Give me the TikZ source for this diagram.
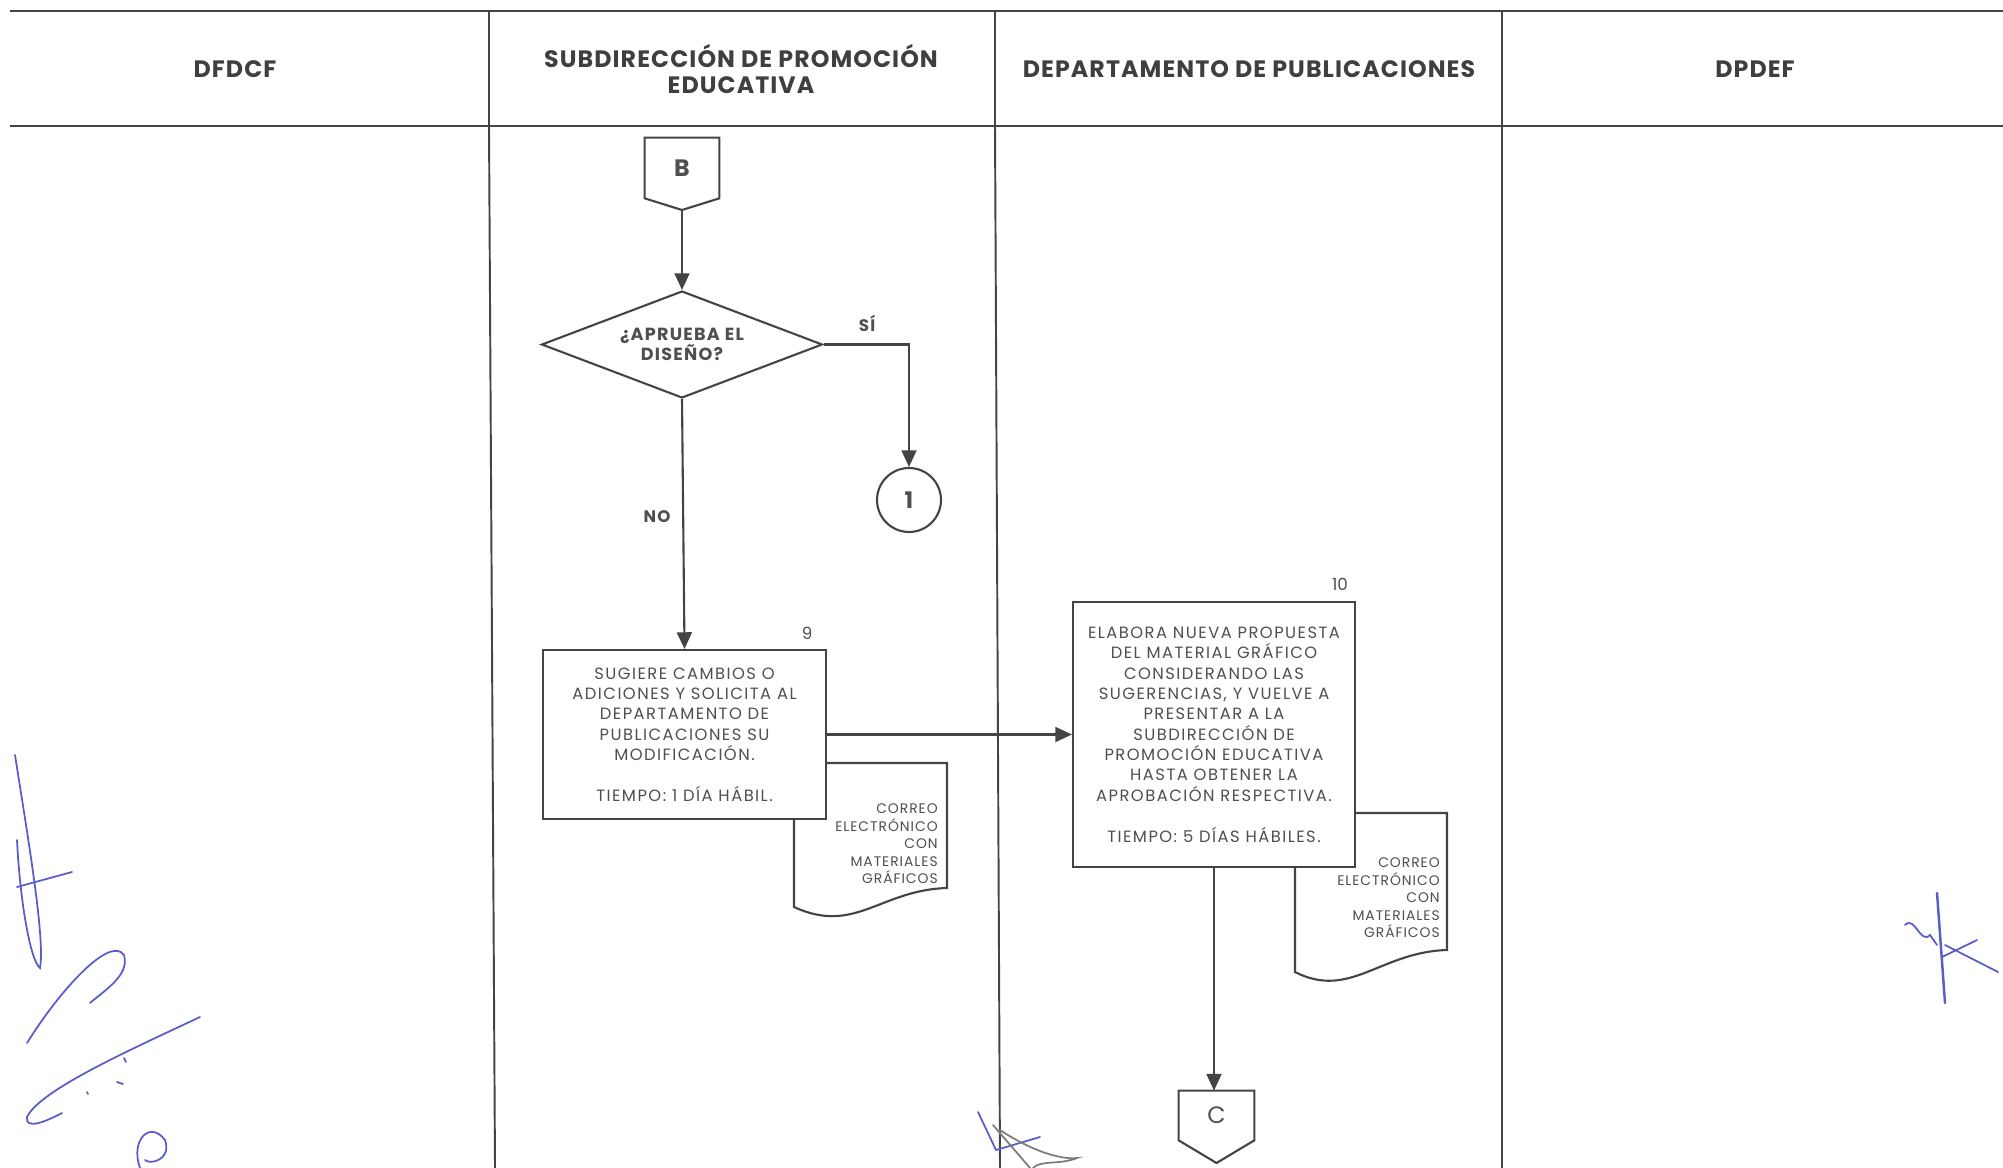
\documentclass[tikz,border=0pt]{standalone}
\usepackage{fontspec}
\setmainfont{Poppins}
\newfontfamily\widefont[LetterSpace=7]{Poppins}
\newfontfamily\boxfont[LetterSpace=9]{Poppins}
\newfontfamily\headfont[LetterSpace=4.5]{Poppins}
\usetikzlibrary{arrows.meta,shapes.geometric,positioning,calc}
\definecolor{ink}{HTML}{444444}
\definecolor{txt}{HTML}{4F4F4F}
\definecolor{pen}{HTML}{5A5CC8}

\begin{document}
\begin{tikzpicture}[x=0.02cm, y=-0.02cm,
    head/.style={font=\headfont\bfseries\fontsize{13.5}{15}\selectfont, text=txt!80!black, align=center},
    box/.style={draw=ink, line width=1.2pt, fill=white, align=center, text=txt, font=\boxfont\fontsize{9.3}{11.6}\selectfont, inner sep=0pt},
    dec/.style={diamond, draw=ink, line width=1.2pt, minimum width=5.62cm, minimum height=2.14cm, inner sep=0pt},
    dectext/.style={align=center, inner sep=0pt, font=\widefont\bfseries\fontsize{10}{10.4}\selectfont, text=txt},
    conn/.style={minimum width=1.48cm, minimum height=1.2cm, inner sep=0pt, font=\bfseries\fontsize{13.5}{14}\selectfont, text=txt},
    doc/.style={align=right, font=\widefont\fontsize{7.9}{10}\selectfont, text=txt, inner sep=0pt},
    lbl/.style={font=\widefont\bfseries\fontsize{9.5}{10}\selectfont, text=txt},
    num/.style={font=\fontsize{9.5}{10}\selectfont, text=txt},
    arr/.style={-{Triangle[length=9.5pt, width=8.5pt]}, draw=ink, line width=1.2pt},
    sig/.style={draw=pen, line width=1pt, line cap=round}
]
\useasboundingbox (0,0) rectangle (2003,1168);

% lanes
\draw[ink, line width=1.6pt] (10,11) -- (2003,11) (10,126) -- (2003,126);
\draw[ink, line width=1.1pt] (489,11) -- (489,126) -- (495,1168);
\draw[ink, line width=1.1pt] (995,11) -- (995,126) -- (1000,1168);
\draw[ink, line width=1.1pt] (1502,11) -- (1502,1168);

\node[head] (h1) at (235,69) {DFDCF};
\node[head] (h2) at (741,69) {SUBDIRECCIÓN DE PROMOCIÓN\\EDUCATIVA};
\node[head] (h3) at (1249,69) {DEPARTAMENTO DE PUBLICACIONES};
\node[head] (h4) at (1755,69) {DPDEF};

% documents (behind the boxes)
\draw[ink, line width=1.2pt, fill=white] (794,763) -- (947,763) -- (947,888) .. controls (880,890) and (855,935) .. (794,907) -- cycle;
\node[doc, anchor=east] (d9) at (938,844) {CORREO\\ELECTRÓNICO\\CON\\MATERIALES\\GRÁFICOS};
\draw[ink, line width=1.2pt, fill=white] (1295,813) -- (1447,813) -- (1447,950) .. controls (1380,952) and (1350,1000) .. (1295,972) -- cycle;
\node[doc, anchor=east] (d10) at (1440,898) {CORREO\\ELECTRÓNICO\\CON\\MATERIALES\\GRÁFICOS};

% steps
\node[conn] (b) at (682,168) {B};
\draw[ink, line width=1.2pt] (b.south west) -- (b.north west) -- (b.north east) -- (b.south east) -- (682,210) -- cycle;
\coordinate (bpt) at (682,210);
\node[dec] (q) at (682,344.5) {};
\node[dectext] (qt) at (q) {¿APRUEBA EL\\DISEÑO?};
\node[draw=ink, line width=1.2pt, circle, minimum size=1.28cm, inner sep=0pt, font=\bfseries\fontsize{13}{14}\selectfont, text=txt] (c1) at (909,500) {1};
\node[box, minimum width=5.66cm, minimum height=3.38cm] (s9) at (684.5,734.5) {SUGIERE CAMBIOS O\\ADICIONES Y SOLICITA AL\\DEPARTAMENTO DE\\PUBLICACIONES SU\\MODIFICACIÓN.\\[11.6pt]TIEMPO: 1 DÍA HÁBIL.};
\node[box, minimum width=5.64cm, minimum height=5.3cm] (s10) at (1214,734.5) {ELABORA NUEVA PROPUESTA\\DEL MATERIAL GRÁFICO\\CONSIDERANDO LAS\\SUGERENCIAS, Y VUELVE A\\PRESENTAR A LA\\SUBDIRECCIÓN DE\\PROMOCIÓN EDUCATIVA\\HASTA OBTENER LA\\APROBACIÓN RESPECTIVA.\\[11.6pt]TIEMPO: 5 DÍAS HÁBILES.};
\node[conn, font=\fontsize{13.5}{14}\selectfont, minimum width=1.5cm, minimum height=0.98cm] (c) at (1216.5,1115.5) {C};
\draw[ink, line width=1.2pt] (c.south west) -- (c.north west) -- (c.north east) -- (c.south east) -- (1216.5,1163) -- cycle;

\node[num] (n9) at (807,633) {9};
\node[num] (n10) at (1340,584) {10};
\node[lbl] (si) at (867,323) {SÍ};
\node[lbl] (no) at (657,517) {NO};

% flow
\draw[arr] (bpt) -- (q.north);
\draw[arr] (q.east) -| (c1.north);
\draw[arr] (q.south) -- (s9.north);
\draw[arr] (s9.east) -- (s10.west);
\draw[arr] (s10.south) -- (s10.south |- c.north);

% signatures
\draw[sig] (15,755) .. controls (30,850) and (45,940) .. (40,968) .. controls (30,960) and (20,900) .. (17,840);
\draw[sig] (17,887) -- (72,872);
\draw[sig] (27,1043) .. controls (60,990) and (110,935) .. (124,955) .. controls (130,975) and (105,990) .. (90,1003);
\draw[sig] (200,1017) .. controls (130,1050) and (40,1090) .. (27,1117) .. controls (25,1130) and (45,1122) .. (62,1113);
\draw[sig] (124,1058) -- (126,1062) (117,1082) -- (123,1084) (87,1092) -- (88,1094);
\draw[sig] (140,1168) .. controls (130,1140) and (150,1120) .. (165,1140) .. controls (172,1160) and (150,1165) .. (145,1160);
\draw[sig] (978,1112) -- (996,1150) -- (1040,1137);
\draw[sig, draw=ink!70] (993,1125) -- (1030,1168);
\draw[sig, draw=ink!70] (1000,1130) .. controls (1030,1150) and (1060,1160) .. (1077,1158) .. controls (1060,1165) and (1040,1160) .. (1033,1168);
\draw[sig, line width=1.4pt] (1937,893) -- (1945,1003);
\draw[sig] (1905,925) .. controls (1915,915) and (1920,945) .. (1930,935) -- (1937,945);
\draw[sig] (1977,940) -- (1942,957) (1945,945) -- (1998,972);
\end{tikzpicture}
\end{document}
